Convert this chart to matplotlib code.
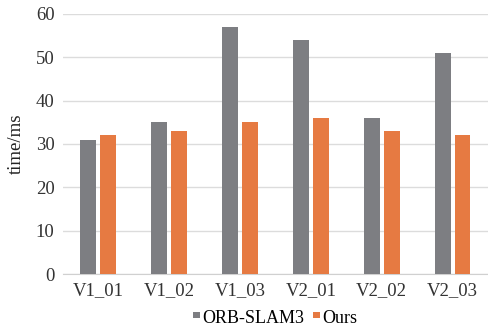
import matplotlib
matplotlib.use("Agg")
import matplotlib.pyplot as plt
import numpy as np

categories = ["V1_01", "V1_02", "V1_03", "V2_01", "V2_02", "V2_03"]
orb_slam3 = [31, 35, 57, 54, 36, 51]
ours = [32, 33, 35, 36, 33, 32]
yticks = [0, 10, 20, 30, 40, 50, 60]

plt.rcParams['font.family'] = ['Liberation Serif', 'DejaVu Serif']

fig = plt.figure(figsize=(4.88, 3.31), dpi=100)
ax = fig.add_axes([0.129, 0.172, 0.871, 0.786])

x = np.arange(len(categories))
w = 0.225
off = 0.14
ax.bar(x - off, orb_slam3, w, color='#7d7e82', label='ORB-SLAM3', zorder=3)
ax.bar(x + off, ours, w, color='#e67a42', label='Ours', zorder=3)

ax.set_xlim(-0.5, len(categories) - 0.5)
ax.set_ylim(0, 60)
ax.set_yticks(yticks)
ax.set_xticks(x)
ax.set_xticklabels(categories)
ax.yaxis.grid(True, color='#dcdcdc', linewidth=1, zorder=0)
for s in ['top', 'right', 'left']:
    ax.spines[s].set_visible(False)
ax.spines['bottom'].set_color('#d0d0d0')
ax.tick_params(axis='both', length=0, labelsize=13.5, colors='#333333', pad=6)
ax.set_ylabel('time/ms', fontsize=13.5, color='#222222', labelpad=8)

leg = ax.legend(loc='center', bbox_to_anchor=(0.5, -0.17), ncol=2, frameon=False,
                fontsize=13, handlelength=0.3, handleheight=0.3, handletextpad=0.2,
                columnspacing=0.5, borderpad=0.1)
for h in leg.legend_handles:
    h.set_height(4.5)
    h.set_width(4.5)
    h.set_y(h.get_y() + 1.5)

fig.savefig('out.png', dpi=100)
